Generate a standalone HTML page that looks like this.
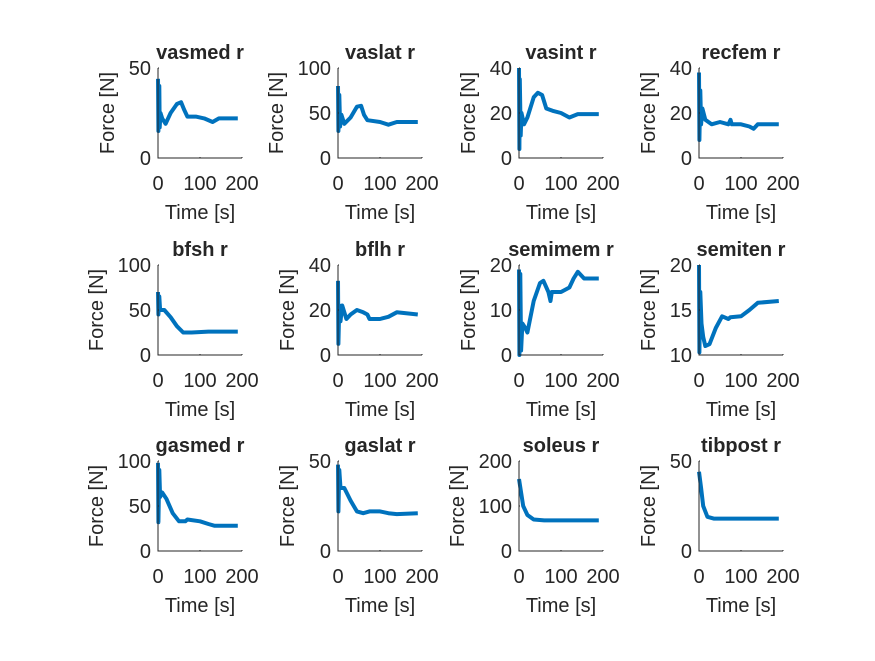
<!DOCTYPE html>
<html><head><meta charset="utf-8"><style>
body{margin:0;background:#fff;}
svg text{font-family:"Liberation Sans",Arial,sans-serif;fill:#262626;}
</style></head><body>
<svg id="fig" width="875" height="656" xmlns="http://www.w3.org/2000/svg"></svg>
<script>
const titles=["vasmed r","vaslat r","vasint r","recfem r","bfsh r","bflh r","semimem r","semiten r","gasmed r","gaslat r","soleus r","tibpost r"];
const yTicks=[[0,50],[0,50,100],[0,20,40],[0,20,40],[0,50,100],[0,20,40],[0,10,20],[10,15,20],[0,50,100],[0,50],[0,100,200],[0,50]];
const xTicks=[0,100,200];
const times=[
[0,1,3,4,6,10,18,30,45,55,62,70,90,110,130,145,190],
[0,1,3,5,8,15,30,45,55,62,70,100,120,140,190],
[0,1,2,4,6,12,20,35,45,55,65,80,100,120,140,190],
[0,1,3,5,8,15,30,50,70,75,78,100,120,130,140,190],
[0,1,3,5,15,30,45,60,80,120,190],
[0,1,3,6,10,20,30,45,60,70,75,100,120,140,190],
[0,1,3,5,8,15,20,35,50,58,70,75,78,100,120,130,140,155,190],
[0,1,3,6,10,15,25,40,55,70,75,100,120,140,190],
[0,1,3,5,10,20,35,50,65,70,100,120,135,190],
[0,1,3,6,15,30,45,60,75,100,120,140,190],
[0,5,10,20,35,60,190],
[0,5,10,20,35,60,190]];
const forces=[
[44,15,40,17,25,22,19,25,30,31,27,23,23,22,20,22,22],
[80,30,70,35,48,38,45,57,58,48,42,40,37,40,40],
[40,4,35,10,20,15,18,27,29,28,22,21,20,18,19.5,19.5],
[38,8,30,15,22,17,15,16,15,17,15,15,14,13,15,15],
[70,45,65,50,50,42,32,25,25,26,26],
[33,5,22,15,22,16,18,20,19,18,16,16,17,19,18],
[19,0,18,1,7,6,5,12,16,16.5,14,12,14,14,15,17,18.5,17,17],
[20,10.3,17,13.5,12,11,11.2,13,14.3,14,14.2,14.3,15,15.8,16],
[98,32,90,60,65,58,42,33,33,35,33,30,28,28],
[48,22,45,35,35,28,22,21,22,22,21,20.5,21],
[160,130,100,80,70,68,68],
[44,35,25,19,18,18,18]];
const colX=[158,338,519,699], rowY=[68,265,461], W=84, H=90;
const svg=document.getElementById('fig'), NS="http://www.w3.org/2000/svg";
function mk(tag,attrs,parent){const e=document.createElementNS(NS,tag);for(const k in attrs)e.setAttribute(k,attrs[k]);(parent||svg).appendChild(e);return e;}
for(let i=0;i<12;i++){
  const x0=colX[i%4], y0=rowY[Math.floor(i/4)];
  const yt=yTicks[i], ymin=yt[0], ymax=yt[yt.length-1];
  const sx=t=>x0+t/200*W, sy=v=>y0+H-(v-ymin)/(ymax-ymin)*H;
  const g=mk('g',{});
  
  
  const pts=times[i].map((t,j)=>sx(t).toFixed(1)+','+sy(forces[i][j]).toFixed(1)).join(' ');
  const ln=mk('polyline',{points:pts,fill:'none',stroke:'#0072BD','stroke-width':4,'stroke-linejoin':'round'},g);
  
  
  const ax=mk('path',{d:`M${x0},${y0}V${y0+H}H${x0+W}`,stroke:'#262626','stroke-width':1,fill:'none'},g);
  
  
  xTicks.forEach(t=>{mk('line',{x1:sx(t),x2:sx(t),y1:y0+H,y2:y0+H-1,stroke:'#262626'},g);
    const tx=mk('text',{x:sx(t),y:y0+H+32,'font-size':20,'text-anchor':'middle'},g);tx.textContent=t;
    
    });
  let maxChars=0;
  yt.forEach(v=>{mk('line',{x1:x0,x2:x0+1,y1:sy(v),y2:sy(v),stroke:'#262626'},g);
    maxChars=Math.max(maxChars,String(v).length);
    const tx=mk('text',{x:x0-7,y:sy(v)+7,'font-size':20,'text-anchor':'end'},g);tx.textContent=v;
    
    });
  const ti=mk('text',{x:x0+W/2,y:y0-9,'font-size':20,'font-weight':'bold','text-anchor':'middle',fill:'#000'},g);ti.textContent=titles[i];
  
  
  const xl=mk('text',{x:x0+W/2,y:y0+H+61,'font-size':20,'text-anchor':'middle'},g);xl.textContent='Time [s]';
  
  
  const ylx=x0-7-11*maxChars-21;
  const yl=mk('text',{x:0,y:0,'font-size':20,'text-anchor':'middle','dominant-baseline':'central',transform:`translate(${ylx},${y0+H/2}) rotate(-90)`},g);yl.textContent='Force [N]';
  
  
}
</script>
</body></html>
